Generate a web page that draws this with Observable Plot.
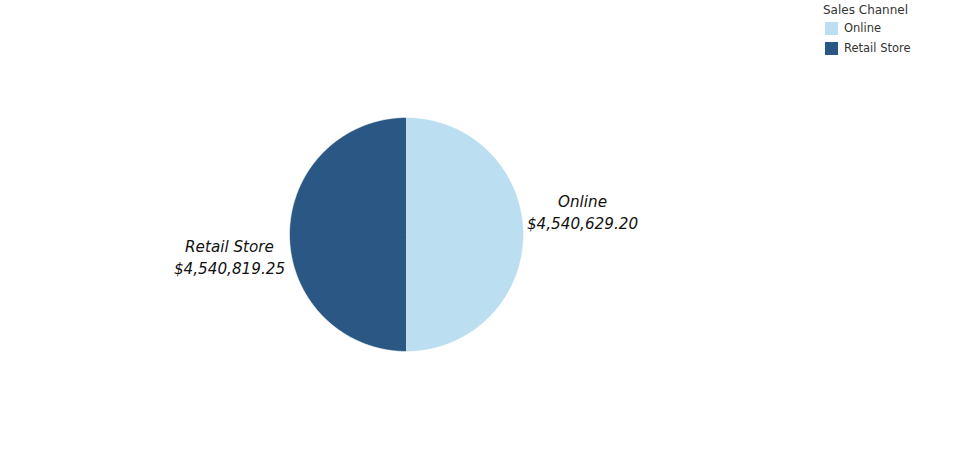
<!DOCTYPE html>
<html>
<head>
<meta charset="utf-8">
<script src="https://cdn.jsdelivr.net/npm/d3@7"></script>
<script src="https://cdn.jsdelivr.net/npm/@observablehq/plot@0.6"></script>
<style>
  html, body { margin: 0; padding: 0; background: #fff; }
  #wrap { position: relative; width: 962px; height: 469px; }
  #legend { position: absolute; left: 823px; top: 3px; font-family: "DejaVu Sans", Verdana, sans-serif; color: #333; }
  #legend .title { font-size: 12px; margin-bottom: 1px; }
  #legend .item { display: flex; align-items: center; font-size: 11.5px; height: 20px; margin-left: 2px; }
  #legend .sw { width: 13px; height: 13px; margin-right: 6px; }
</style>
</head>
<body>
<div id="wrap"><div id="legend"></div></div>
<script>
const legendTitle = "Sales Channel";
const channels = ["Online", "Retail Store"];
const sales = [4540629.20, 4540819.25];
const colors = ["#BBDEF0", "#2A5783"];

const rows = channels.map((c, i) => ({channel: c, sales: sales[i]}));
const arcs = d3.pie().sort(null).value(d => d.sales).startAngle(0).endAngle(2 * Math.PI)(rows);

// polygon points for each slice (unit circle, clockwise from 12 o'clock)
const pts = [];
for (const a of arcs) {
  const ch = a.data.channel;
  pts.push({channel: ch, x: 0, y: 0});
  const n = Math.max(2, Math.ceil((a.endAngle - a.startAngle) / (Math.PI / 360)));
  for (let k = 0; k <= n; k++) {
    const t = a.startAngle + (a.endAngle - a.startAngle) * k / n;
    pts.push({channel: ch, x: Math.sin(t), y: Math.cos(t)});
  }
  pts.push({channel: ch, x: 0, y: 0});
}

const fmt = d3.format("$,.2f");
const labels = arcs.map(a => {
  const m = (a.startAngle + a.endAngle) / 2;
  return {channel: a.data.channel, text: a.data.channel + "\n" + fmt(a.data.sales), x: Math.sin(m), y: Math.cos(m)};
});

const textOpts = {x: "x", y: "y", text: "text", fontFamily: "DejaVu Sans, Verdana, sans-serif", fontSize: 15.2, fontStyle: "italic", fill: "#111", lineHeight: 1.45, textAnchor: "middle"};

const chart = Plot.plot({
  width: 962,
  height: 469,
  margin: 0,
  x: {domain: [-1, 1], range: [289, 523], axis: null},
  y: {domain: [-1, 1], range: [351, 117], axis: null},
  color: {domain: channels, range: colors},
  marks: [
    Plot.line(pts, {x: "x", y: "y", z: "channel", fill: "channel", stroke: "#fff", strokeWidth: 0.6, curve: "linear"}),
    Plot.text(labels.filter(d => d.channel === channels[0]), {...textOpts, dx: 59, dy: -24}),
    Plot.text(labels.filter(d => d.channel === channels[1]), {...textOpts, dx: -60, dy: 21})
  ]
});
document.getElementById("wrap").prepend(chart);

const lg = document.getElementById("legend");
const t = document.createElement("div");
t.className = "title"; t.textContent = legendTitle; lg.appendChild(t);
channels.forEach((c, i) => {
  const it = document.createElement("div"); it.className = "item";
  const sw = document.createElement("div"); sw.className = "sw"; sw.style.background = colors[i];
  const lb = document.createElement("span"); lb.textContent = c;
  it.appendChild(sw); it.appendChild(lb); lg.appendChild(it);
});
</script>
</body>
</html>
